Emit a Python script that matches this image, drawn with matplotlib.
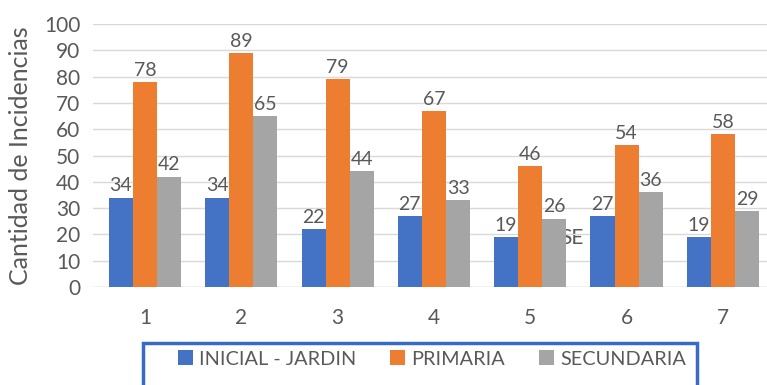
import matplotlib
matplotlib.use("Agg")
import matplotlib.pyplot as plt
from matplotlib.patches import Rectangle, Patch
import numpy as np

categories = ["1", "2", "3", "4", "5", "6", "7"]
series_names = ["INICIAL - JARDIN", "PRIMARIA", "SECUNDARIA"]
inicial = [34, 34, 22, 27, 19, 27, 19]
primaria = [78, 89, 79, 67, 46, 54, 58]
secundaria = [42, 65, 44, 33, 26, 36, 29]
colors = ["#4472C4", "#ED7D31", "#A5A5A5"]

plt.rcParams['font.family'] = ['Lato', 'DejaVu Sans']

W, H = 767, 385
fig = plt.figure(figsize=(W / 100, H / 100), dpi=100)
left, right, bottom, top = 93, 771, 287, 24
ax = fig.add_axes([left / W, (H - bottom) / H, (right - left) / W, (bottom - top) / H])

x = np.arange(1, len(categories) + 1)
bw = 0.25
txt = "#595959"
for i, (vals, c) in enumerate(zip([inicial, primaria, secundaria], colors)):
    xs = x + (i - 1) * bw
    ax.bar(xs, vals, width=bw, color=c, zorder=3, label=series_names[i])
    for xi, v in zip(xs, vals):
        ax.text(xi, v + 1.2, str(v), ha="center", va="bottom", fontsize=14, color=txt, zorder=4)

# stray text fragment visible in the reference
ax.text(5.31, 18.6, "SE", ha="left", va="center", fontsize=15, color=txt, zorder=1)

ax.set_xlim(0.46, 7.5)
ax.set_ylim(0, 100)
ax.set_yticks(range(0, 101, 10))
ax.set_xticks(x)
ax.set_xticklabels(categories)
ax.tick_params(axis="both", length=0, labelsize=15, colors=txt)
ax.tick_params(axis="x", pad=15)
ax.tick_params(axis="y", pad=9)
ax.grid(axis="y", color="#D9D9D9", linewidth=1, zorder=0)
for s in ax.spines.values():
    s.set_visible(False)
ax.axhline(0, color="#D9D9D9", linewidth=1, zorder=2)
ax.set_ylabel("Cantidad de Incidencias", fontsize=18, color=txt)
ax.yaxis.set_label_coords((32 - left) / (right - left), 0.5)

# legend frame (extends past bottom edge as in the reference)
fig.patches.append(Rectangle((143 / W, -0.05), (697 - 143) / W, (H - 343) / H + 0.05,
                             transform=fig.transFigure, fill=False, edgecolor="#3A6BC4",
                             linewidth=2.5))
handles = [Patch(facecolor=c) for c in colors]
fig.legend(handles, series_names, loc="center left", bbox_to_anchor=(160 / W, (H - 359) / H),
           ncol=3, frameon=False, fontsize=14.3, labelcolor=txt, handlelength=0.75,
           handleheight=0.75, handletextpad=0.32, columnspacing=1.7)

fig.savefig("out.png", dpi=100)
